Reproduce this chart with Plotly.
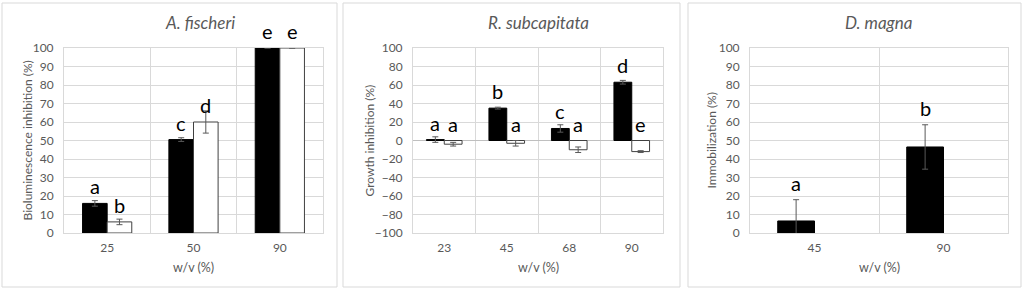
import plotly.graph_objects as go

# ---- data ----
af_cats = ["25", "50", "90"]
af_black = [16, 50.5, 100]
af_black_err = [1.5, 1.0, 0]
af_white = [6, 60, 100]
af_white_err = [1.5, 6, 0]
af_black_lbl = ["a", "c", "e"]
af_white_lbl = ["b", "d", "e"]

rs_cats = ["23", "45", "68", "90"]
rs_black = [1, 35, 13, 63]
rs_black_err = [3, 1, 4, 2]
rs_white = [-4, -3, -10, -12]
rs_white_err = [2, 3, 3, 1]
rs_black_lbl = ["a", "b", "c", "d"]
rs_white_lbl = ["a", "a", "a", "e"]

dm_cats = ["45", "90"]
dm_black = [6.5, 46.5]
dm_black_err = [11.5, 12]
dm_white = [0, 0]
dm_black_lbl = ["a", "b"]

titles = ["A. fischeri", "R. subcapitata", "D. magna"]
ytitles = ["Bioluminescence inhibition (%)", "Growth inhibition (%)", "Immobilization (%)"]
xtitle = "w/v (%)"

# ---- style ----
GRAY = "#595959"
GRID = "#d9d9d9"
ERR = "#595959"
FONT = "Lato, Open Sans, sans-serif"
H = 291
W = 1024

def py(p):
    return 1 - p / H

def px(p):
    return p / W

panels = [
    dict(x0=64, x1=323, bx0=2, bx1=337, ytx=27),
    dict(x0=413, x1=663, bx0=343, bx1=680, ytx=369),
    dict(x0=750, x1=1008, bx0=688, bx1=1021, ytx=711),
]
ytop, ybot = 48, 233

fig = go.Figure()

def add_bars(i, cats, vals, errs, color, line_color, show_line=True):
    xa = "x" if i == 0 else f"x{i+1}"
    ya = "y" if i == 0 else f"y{i+1}"
    fig.add_trace(go.Bar(
        x=cats, y=vals, xaxis=xa, yaxis=ya,
        marker=dict(color=color, line=dict(color=line_color, width=1 if show_line else 0)),
        error_y=dict(type="data", array=errs, color=ERR, thickness=1, width=3) if errs is not None else None,
        showlegend=False, hoverinfo="skip",
    ))

add_bars(0, af_cats, af_black, af_black_err, "black", "black")
add_bars(0, af_cats, af_white, af_white_err, "white", "#404040")
add_bars(1, rs_cats, rs_black, rs_black_err, "black", "black")
add_bars(1, rs_cats, rs_white, rs_white_err, "white", "#404040")
add_bars(2, dm_cats, dm_black, dm_black_err, "black", "black")
add_bars(2, dm_cats, dm_white, None, "white", "white", show_line=False)

bargap = 0.43
ncat = [len(af_cats), len(rs_cats), len(dm_cats)]

annotations = []
shapes = []

def letter(i, ci, yv, lbl, side, shift=3):
    xa = "x" if i == 0 else f"x{i+1}"
    ya = "y" if i == 0 else f"y{i+1}"
    off = (1 - bargap) / 4
    annotations.append(dict(
        x=ci - off if side == 0 else ci + off, y=yv, xref=xa, yref=ya, text=lbl, showarrow=False,
        xanchor="center", yanchor="bottom", yshift=shift,
        font=dict(family=FONT, size=20, color="black"),
    ))

for ci, (v, l) in enumerate(zip(af_black, af_black_lbl)):
    letter(0, ci, max(v, 0), l, 0)
for ci, (v, l) in enumerate(zip(af_white, af_white_lbl)):
    letter(0, ci, max(v, 0), l, 1)
for ci, (v, l) in enumerate(zip(rs_black, rs_black_lbl)):
    letter(1, ci, max(v, 0), l, 0)
for ci, (v, l) in enumerate(zip(rs_white, rs_white_lbl)):
    letter(1, ci, max(v, 0), l, 1)
for ci, (v, e, l) in enumerate(zip(dm_black, dm_black_err, dm_black_lbl)):
    letter(2, ci, v + e, l, 0)

yranges = [[0, 100], [-100, 100], [0, 100]]
ydticks = [10, 20, 10]

layout = dict(
    width=W, height=H, margin=dict(l=0, r=0, t=0, b=0, autoexpand=False),
    paper_bgcolor="white", plot_bgcolor="white",
    barmode="group", bargap=bargap, bargroupgap=0,
    showlegend=False,
)

for i, p in enumerate(panels):
    sx = "" if i == 0 else str(i + 1)
    layout[f"xaxis{sx}"] = dict(
        domain=[px(p["x0"]), px(p["x1"])], anchor=f"y{sx}",
        type="category", range=[-0.5, ncat[i] - 0.5], automargin=False,
        tickson="boundaries", ticks="", showgrid=True, gridcolor=GRID, gridwidth=1,
        showline=True, linecolor=GRID, mirror=True, ticklabelstandoff=4,
        tickfont=dict(family=FONT, size=12, color=GRAY),
        fixedrange=True,
    )
    layout[f"yaxis{sx}"] = dict(
        domain=[py(ybot), py(ytop)], anchor=f"x{sx}", automargin=False,
        range=yranges[i], dtick=ydticks[i], tick0=0,
        showgrid=True, gridcolor=GRID, gridwidth=1,
        zeroline=True, zerolinecolor="#bfbfbf", zerolinewidth=1,
        showline=True, linecolor=GRID, mirror=True, ticks="", ticklabelstandoff=7,
        tickfont=dict(family=FONT, size=12, color=GRAY),
        fixedrange=True,
    )
    shapes.append(dict(type="rect", xref="paper", yref="paper",
                       x0=px(p["bx0"]), x1=px(p["bx1"]), y0=py(287), y1=py(3),
                       line=dict(color=GRID, width=1), fillcolor="rgba(0,0,0,0)", layer="below"))
    # chart title
    annotations.append(dict(
        x=(px(p["x0"]) + px(p["x1"])) / 2 + (0.006 if i == 0 else 0), y=py(23), xref="paper", yref="paper",
        text=f"<i>{titles[i]}</i>", showarrow=False, xanchor="center", yanchor="middle",
        font=dict(family=FONT, size=17, color=GRAY),
    ))
    # x axis title
    annotations.append(dict(
        x=(px(p["x0"]) + px(p["x1"])) / 2, y=py(267), xref="paper", yref="paper",
        text=xtitle, showarrow=False, xanchor="center", yanchor="middle",
        font=dict(family=FONT, size=12.5, color=GRAY),
    ))
    # y axis title
    annotations.append(dict(
        x=px(p["ytx"]), y=py((ytop + ybot) / 2), xref="paper", yref="paper",
        text=ytitles[i], showarrow=False, xanchor="center", yanchor="middle", textangle=-90,
        font=dict(family=FONT, size=12, color=GRAY),
    ))

layout["annotations"] = annotations
layout["shapes"] = shapes
fig.update_layout(**layout)
fig.write_html("out.html", config={"displayModeBar": False},
               post_script="document.body.style.margin='0';document.body.style.overflow='hidden';")
